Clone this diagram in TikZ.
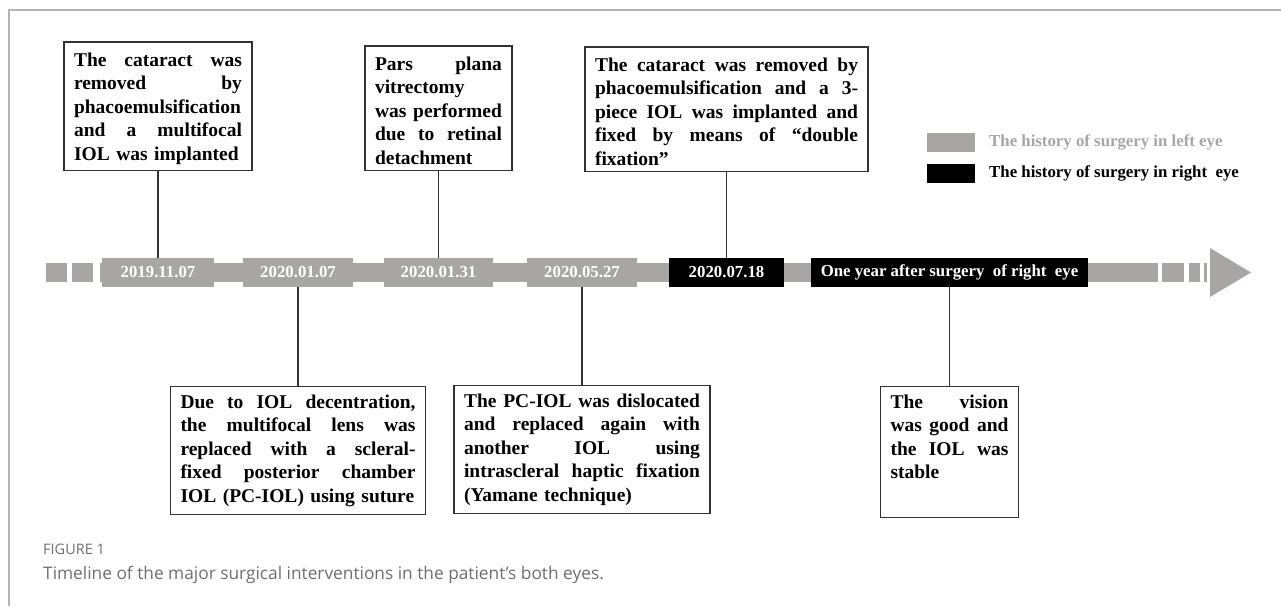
\documentclass[tikz,border=0pt]{standalone}
\usepackage{fontspec}
\setmainfont{Liberation Serif}
\newfontfamily\capfont{Open Sans}
\usetikzlibrary{calc}
\definecolor{bargray}{RGB}{168,165,165}
\definecolor{linegray}{RGB}{51,51,51}
\definecolor{framegray}{RGB}{180,180,180}
\definecolor{capgray}{RGB}{110,110,110}
\newlength{\jw}
\newcommand{\jl}[1]{\makebox[\jw][s]{\spaceskip=0pt\xspaceskip=0pt #1}\\}
\newcommand{\tg}{\rule{0pt}{18pt}}

\begin{document}
\begin{tikzpicture}[x=1pt,y=-1pt,
    eventbox/.style={draw=linegray,line width=1.4pt,fill=white,align=left,
      text width=#1,inner xsep=10pt,inner ysep=8pt,
      font=\bfseries\fontsize{19.5}{23.5}\selectfont\setlength{\jw}{#1}},
    upperbox/.style={eventbox=#1,inner ysep=6pt,anchor=south},
    datebox/.style={fill=bargray,text=white,minimum width=#1,minimum height=29pt,
      inner sep=0pt,font=\bfseries\fontsize{16.8}{20}\selectfont},
    rightbox/.style={datebox=#1,fill=black},
    link/.style={draw=linegray,line width=1.2pt}]
        \useasboundingbox (0,0) rectangle (1281,606);
        \draw[framegray,line width=1.5pt] (9,606) -- (9,10) -- (1281,10);
        % time axis
        \fill[bargray] (46,263) rectangle (67,282);
        \fill[bargray] (72,263) rectangle (93,282);
        \fill[bargray] (100,263) rectangle (1158,282);
        \fill[bargray] (1162,263) rectangle (1184,282);
        \fill[bargray] (1189,263) rectangle (1200,282);
        \fill[bargray] (1204,263) rectangle (1207,282);
        \fill[bargray] (1210,248) -- (1251,272.5) -- (1210,297) -- cycle;
        \node[datebox=112pt] (d1) at (158,272.5) {2019.11.07};
        \node[datebox=110pt] (d2) at (298,272.5) {2020.01.07};
        \node[datebox=109pt] (d3) at (438.5,272.5) {2020.01.31};
        \node[datebox=110pt] (d4) at (582,272.5) {2020.05.27};
        \node[rightbox=115pt] (d5) at (726.5,272.5) {2020.07.18};
        \node[rightbox=277pt] (d6) at (949.5,272.5) {One year after surgery\ \ of right\ \ eye};
        % boxes above
        \node[upperbox=168pt] (e1) at (d1 |- 0,171) {\tg\jl{The cataract was}\jl{removed by}\jl{phacoemulsification}\jl{and a multifocal}IOL was implanted};
        \node[upperbox=127pt] (e3) at (d3 |- 0,171) {\tg\jl{Pars plana}vitrectomy\\\jl{was performed}\jl{due to retinal}detachment};
        \node[upperbox=263pt] (e5) at (d5 |- 0,172) {\tg\jl{The cataract was removed by}\jl{phacoemulsification and a 3-}\jl{piece IOL was implanted and}\jl{fixed by means of “double}fixation”};
        % boxes below
        \node[eventbox=235pt,anchor=north] (e2) at (d2 |- 0,386) {\jl{Due to IOL decentration,}\jl{the multifocal lens was}\jl{replaced with a scleral-}\jl{fixed posterior chamber}IOL (PC-IOL) using suture};
        \node[eventbox=236pt,anchor=north] (e4) at (d4 |- 0,385) {\jl{The PC-IOL was dislocated}\jl{and replaced again with}\jl{another IOL using}\jl{intrascleral haptic fixation}(Yamane technique)};
        \node[eventbox=118pt,anchor=north] (e6) at (d6 |- 0,386) {\jl{The vision}\jl{was good and}\jl{the IOL was}stable\\\strut};
        \draw[link] (e1.south) -- (d1.north);
        \draw[link] (e3.south) -- (d3.north);
        \draw[link] (e5.south) -- (d5.north);
        \draw[link] (d2.south) -- (e2.north);
        \draw[link] (d4.south) -- (e4.north);
        \draw[link] (d6.south) -- (e6.north);
        % legend
        \fill[bargray] (927,133) rectangle (975,152);
        \fill[black] (927,164) rectangle (975,183);
        \node[anchor=west,inner sep=0pt,text=bargray,font=\bfseries\fontsize{16.8}{20}\selectfont] (l1) at (989,142.5) {The history of surgery in left eye};
        \node[anchor=west,inner sep=0pt,font=\bfseries\fontsize{16.8}{20}\selectfont] (l2) at (989,173.5) {The history of surgery in right\ \ eye};
        % caption
        \node[anchor=west,inner sep=0pt,text=capgray,font=\capfont\fontsize{14.5}{17}\selectfont] (fig) at (43,549) {FIGURE 1};
        \node[anchor=west,inner sep=0pt,text=capgray,font=\capfont\fontsize{17.3}{20}\selectfont] (cap) at (43,575) {Timeline of the major surgical interventions in the patient’s both eyes.};
\end{tikzpicture}
\end{document}
